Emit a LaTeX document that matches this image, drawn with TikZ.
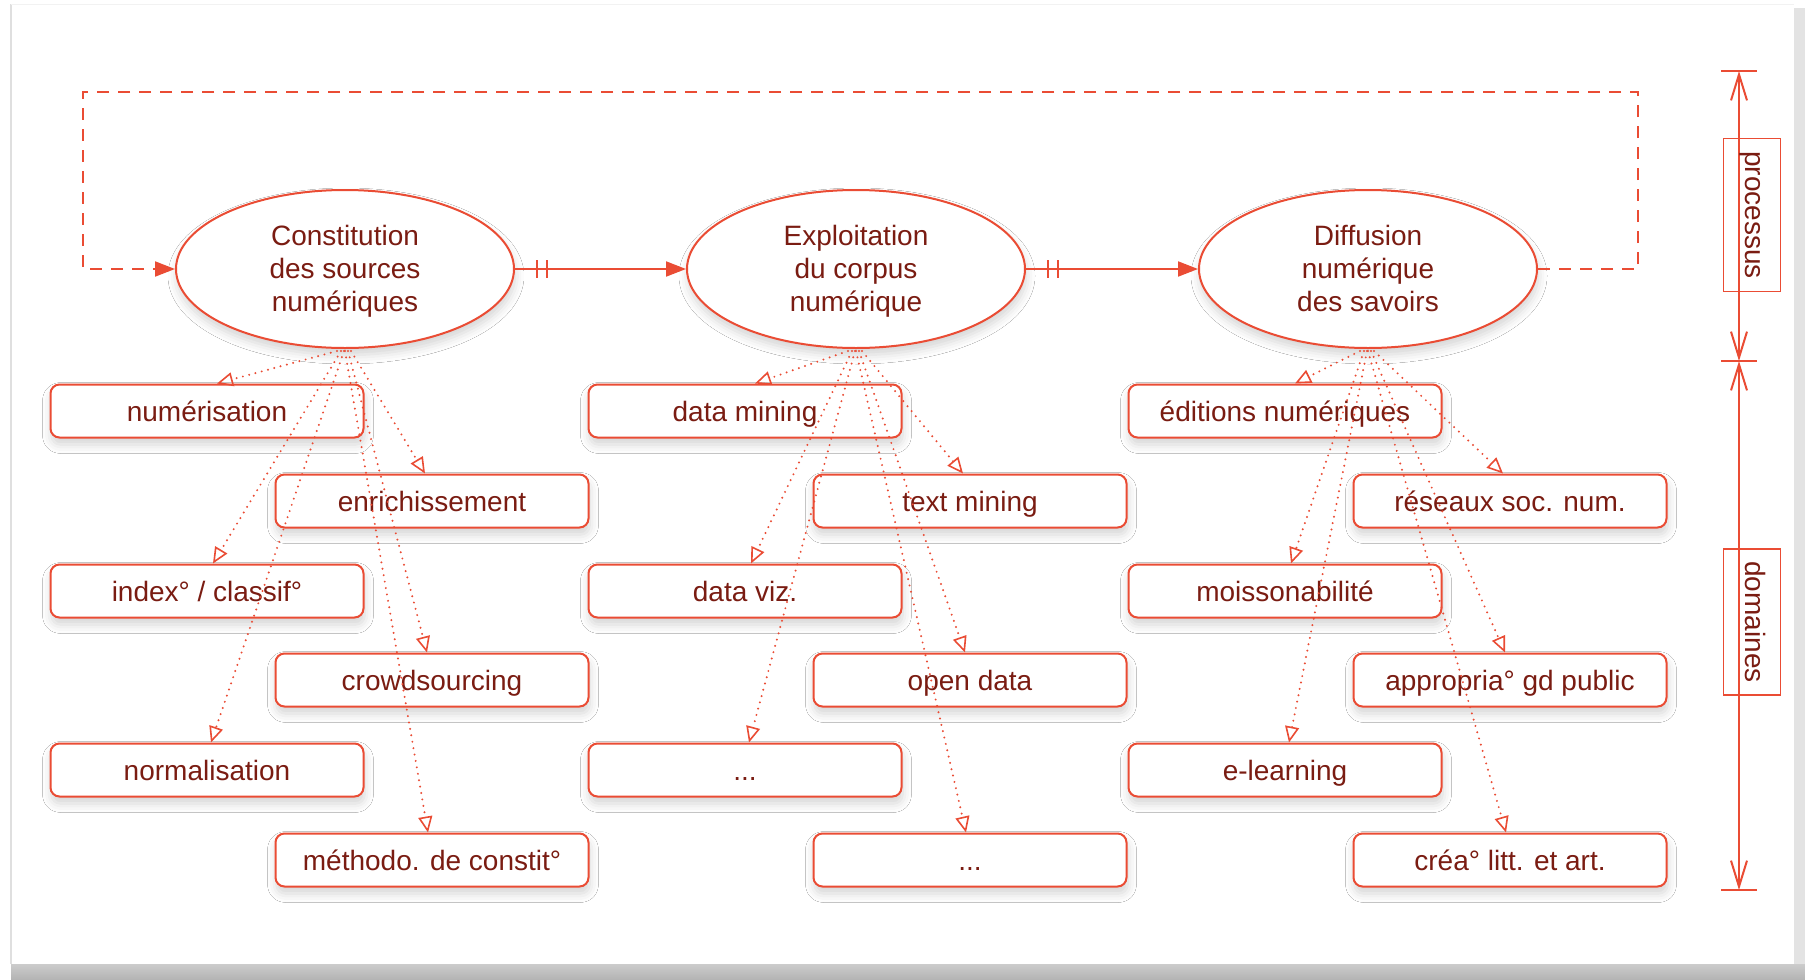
\documentclass[tikz,border=0pt]{standalone}
\usepackage{fontspec}
\setmainfont{Liberation Sans}
\usetikzlibrary{arrows.meta,shapes.geometric,shadows.blur,calc}
\definecolor{lc}{RGB}{234,76,52}
\definecolor{tc}{RGB}{122,28,18}
\newcommand{\lstrut}{\rule[-6pt]{0pt}{31.4pt}}
\begin{document}
\begin{tikzpicture}[x=1pt,y=-1pt,
  every node/.style={text=tc, font=\fontsize{28}{33}\selectfont},
  shsh/.style={blur shadow={shadow xshift=1pt, shadow yshift=-7pt, shadow blur radius=9pt, shadow opacity=17}},
  proc/.style={ellipse, draw=lc, line width=2pt, fill=white, minimum width=338pt, minimum height=158pt, inner sep=0pt, align=center, shsh},
  dom/.style={rectangle, rounded corners=9pt, draw=lc, line width=2pt, fill=white, minimum width=313pt, minimum height=53pt, inner sep=0pt, text height=23pt, text depth=3pt, shsh},
  dep/.style={draw=lc, line width=2.2pt, dash pattern=on 0pt off 6.5pt, line cap=round, -{Triangle[open,length=16pt,width=14pt,line width=1.6pt]}},
  flow/.style={draw=lc, line width=2pt, -{Triangle[length=20pt,width=15pt]}},
  loopline/.style={draw=lc, line width=2pt, dash pattern=on 12pt off 9pt},
  bartick/.style={draw=lc, line width=2pt},
  dimline/.style={draw=lc, line width=2pt, {Straight Barb[length=26pt,width=16pt]}-{Straight Barb[length=26pt,width=16pt]}},
  lblbox/.style={rotate=-90, draw=lc, line width=1.6pt, inner sep=0pt, minimum height=57pt, text height=20pt, text depth=7pt}
]
\useasboundingbox (0,0) rectangle (1805,980);
% page
\fill[white] (0,0) rectangle (1805,980);
\fill[gray!22] (1794,8) rectangle (1805,980);
\shade[top color=gray!40, bottom color=gray!60] (11,964) rectangle (1805,980);
\draw[gray!25, line width=2pt] (11,4) -- (11,964);
\draw[gray!10, line width=1pt] (11,4) -- (1794,4);

% process ellipses
\node[proc] (e1) at (345,269) {\lstrut Constitution\\\lstrut des sources\\\lstrut numériques};
\node[proc] (e2) at (856,269) {\lstrut Exploitation\\\lstrut du corpus\\\lstrut numérique};
\node[proc] (e3) at (1368,269) {\lstrut Diffusion\\\lstrut numérique\\\lstrut des savoirs};

% domain boxes
\node[dom] (a1) at (207,411) {numérisation};
\node[dom] (a2) at (432,501) {enrichissement};
\node[dom] (a3) at (207,591) {index° / classif°};
\node[dom] (a4) at (432,680) {crowdsourcing};
\node[dom] (a5) at (207,770) {normalisation};
\node[dom] (a6) at (432,860) {méthodo. de constit°};

\node[dom] (b1) at (745,411) {data mining};
\node[dom] (b2) at (970,501) {text mining};
\node[dom] (b3) at (745,591) {data viz.};
\node[dom] (b4) at (970,680) {open data};
\node[dom] (b5) at (745,770) {...};
\node[dom] (b6) at (970,860) {...};

\node[dom] (c1) at (1285,411) {éditions numériques};
\node[dom] (c2) at (1510,501) {réseaux soc. num.};
\node[dom] (c3) at (1285,591) {moissonabilité};
\node[dom] (c4) at (1510,680) {appropria° gd public};
\node[dom] (c5) at (1285,770) {e-learning};
\node[dom] (c6) at (1510,860) {créa° litt. et art.};

% flow between processes
\draw[flow] (e1.east) -- (e2.west);
\draw[flow] (e2.east) -- (e3.west);
\foreach \e in {e1,e2}{
  \draw[bartick] ($(\e.east)+(22,-9)$) -- ++(0,18);
  \draw[bartick] ($(\e.east)+(32,-9)$) -- ++(0,18);
}

% feedback loop
\coordinate (lr) at (1638,92);
\coordinate (ll) at (83,92);
\draw[loopline, -{Triangle[length=20pt,width=15pt]}] (e3.east) -| (lr) -- (ll) |- (e1.west);

% dotted dependencies
\foreach \e/\p in {e1/a,e2/b,e3/c}{
  \draw[dep] ($(\e.south)+(-8,2)$) -- ($(\p1.north)+(10,0)$);
  \draw[dep] ($(\e.south)+(6,2)$) -- ($(\p2.north)+(-7,0)$);
  \draw[dep] ($(\e.south)+(-4,2)$) -- ($(\p3.north)+(6,0)$);
  \draw[dep] ($(\e.south)+(3,2)$) -- ($(\p4.north)+(-5,0)$);
  \draw[dep] ($(\e.south)+(-1,2)$) -- ($(\p5.north)+(4,0)$);
  \draw[dep] ($(\e.south)+(0,2)$) -- ($(\p6.north)+(-4,0)$);
}

% dimension scale
\coordinate (dt) at (1739,71);
\coordinate (dm) at (1739,361);
\coordinate (db) at (1739,890);
\draw[dimline] (dt) -- (dm);
\draw[dimline] (dm) -- (db);
\draw[bartick] ($(dt)+(-18,0)$) -- ++(36,0);
\draw[bartick] ($(dm)+(-18,0)$) -- ++(36,0);
\draw[bartick] ($(db)+(-18,0)$) -- ++(36,0);
\node[lblbox, minimum width=153pt] (pb) at (1752,215) {processus};
\node[lblbox, minimum width=146pt] (db2) at (1752,622) {domaines};
\end{tikzpicture}
\end{document}
